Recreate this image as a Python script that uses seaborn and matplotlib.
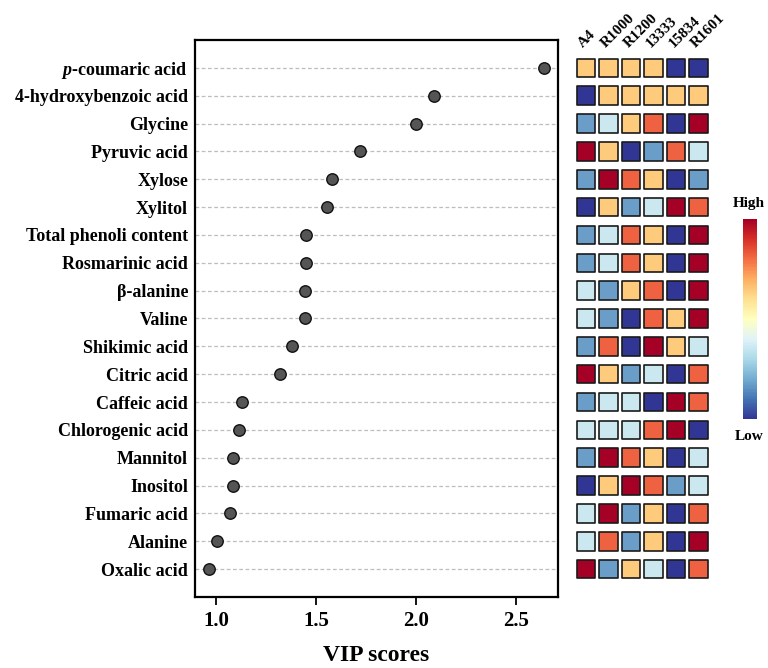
import numpy as np
import pandas as pd
import matplotlib
matplotlib.use("Agg")
import matplotlib.pyplot as plt
import matplotlib.colors as mcolors
import matplotlib.cm as cm
import seaborn as sns

compounds = ["$p$-coumaric acid", "4-hydroxybenzoic acid", "Glycine", "Pyruvic acid",
             "Xylose", "Xylitol", "Total phenoli content", "Rosmarinic acid",
             "β-alanine", "Valine", "Shikimic acid", "Citric acid", "Caffeic acid",
             "Chlorogenic acid", "Mannitol", "Inositol", "Fumaric acid", "Alanine",
             "Oxalic acid"]
vip = [2.64, 2.09, 2.00, 1.72, 1.58, 1.555, 1.45, 1.45, 1.445, 1.445, 1.38, 1.32,
       1.128, 1.117, 1.085, 1.085, 1.07, 1.005, 0.965]
samples = ["A4", "R1000", "R1200", "13333", "15834", "R1601"]
# relative abundance level per compound and sample (0 = low ... 5 = high)
levels = [
    [3, 3, 3, 3, 0, 0],
    [0, 3, 3, 3, 3, 3],
    [1, 2, 3, 4, 0, 5],
    [5, 3, 0, 1, 4, 2],
    [1, 5, 4, 3, 0, 1],
    [0, 3, 1, 2, 5, 4],
    [1, 2, 4, 3, 0, 5],
    [1, 2, 4, 3, 0, 5],
    [2, 1, 3, 4, 0, 5],
    [2, 1, 0, 4, 3, 5],
    [1, 4, 0, 5, 3, 2],
    [5, 3, 1, 2, 0, 4],
    [1, 2, 2, 0, 5, 4],
    [2, 2, 2, 4, 5, 0],
    [1, 5, 4, 3, 0, 2],
    [0, 3, 5, 4, 1, 2],
    [2, 5, 1, 3, 0, 4],
    [2, 4, 1, 3, 0, 5],
    [5, 1, 3, 2, 0, 4],
]
level_colors = ["#313695", "#6a9ec9", "#cbe8f0", "#fdcb7b", "#ef6241", "#a50026"]

sns.set_theme(style="white")
plt.rcParams["font.family"] = ["Liberation Serif", "DejaVu Serif"]
plt.rcParams["font.weight"] = "bold"
plt.rcParams["mathtext.fontset"] = "custom"
plt.rcParams["mathtext.it"] = "Liberation Serif:italic:bold"
plt.rcParams["mathtext.rm"] = "Liberation Serif:bold"
for k in ["text.color", "axes.labelcolor", "xtick.color", "ytick.color"]:
    plt.rcParams[k] = "black"

W, H = 768, 668
fig = plt.figure(figsize=(W / 100, H / 100), dpi=100)

def fr(x0, y0, x1, y1):
    return [x0 / W, 1 - y1 / H, (x1 - x0) / W, (y1 - y0) / H]

# ---- dot plot ----
ax = fig.add_axes(fr(195, 40, 558, 597))
n = len(compounds)
ypos = np.arange(n)
df = pd.DataFrame({"compound": compounds, "VIP": vip, "y": ypos})
for yy in ypos:
    ax.axhline(yy, color="#bdbdbd", lw=0.9, ls=(0, (3, 2)), zorder=1)
sns.scatterplot(data=df, x="VIP", y="y", ax=ax, s=68, color="#555555",
                edgecolor="#111111", linewidth=1.0, zorder=3, legend=False)
ax.set_xlim(0.895, 2.71)
ax.set_ylim(n, -1)
ax.set_yticks(ypos)
ax.set_yticklabels(compounds, fontsize=13, fontweight="bold")
ax.set_xticks([1.0, 1.5, 2.0, 2.5])
ax.set_xticklabels(["1.0", "1.5", "2.0", "2.5"], fontsize=15, fontweight="bold")
ax.tick_params(axis="y", length=0, pad=5)
ax.tick_params(axis="x", length=6, width=1.3, direction="out", pad=4, bottom=True, color="black")
ax.set_xlabel("VIP scores", fontsize=17, fontweight="bold", labelpad=10)
ax.set_ylabel("")
for sp in ax.spines.values():
    sp.set_color("black")
    sp.set_linewidth(1.6)

# ---- heatmap of squares ----
hx = fig.add_axes(fr(574.75, 40, 709.75, 597))
rows = []
for i, comp in enumerate(compounds):
    for j, s in enumerate(samples):
        rows.append({"row": i, "col": j, "level": levels[i][j]})
hdf = pd.DataFrame(rows)
pal = {k: c for k, c in enumerate(level_colors)}
sns.scatterplot(data=hdf, x="col", y="row", hue="level", palette=pal, marker="s",
                s=178, edgecolor="#1a1a1a", linewidth=1.2, ax=hx, legend=False)
hx.set_xlim(-0.5, len(samples) - 0.5)
hx.set_ylim(n, -1)
hx.axis("off")
for j, s in enumerate(samples):
    hx.text(j - 0.12, -0.72, s, rotation=45, rotation_mode="anchor", ha="left",
            va="baseline", fontsize=11, fontweight="bold")

# ---- colorbar ----
cax = fig.add_axes(fr(743, 219, 757, 419))
sm = cm.ScalarMappable(norm=mcolors.Normalize(0, 1), cmap="RdYlBu_r")
cb = fig.colorbar(sm, cax=cax)
cb.outline.set_visible(False)
cb.set_ticks([])
fig.text(749 / W, 1 - 203 / H, "High", ha="center", va="center", fontsize=11, fontweight="bold")
fig.text(749 / W, 1 - 437 / H, "Low", ha="center", va="center", fontsize=11, fontweight="bold")

fig.savefig("out.png", dpi=100)
